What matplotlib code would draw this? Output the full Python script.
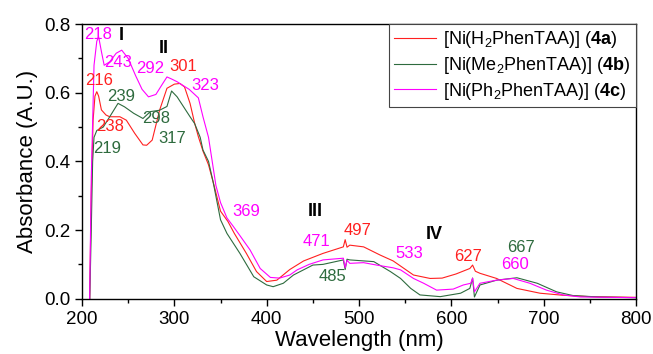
import matplotlib
matplotlib.use('Agg')
import matplotlib.pyplot as plt
from matplotlib.ticker import MultipleLocator

plt.rcParams['font.family'] = ['Liberation Sans', 'DejaVu Sans']
plt.rcParams['mathtext.fontset'] = 'custom'
plt.rcParams['mathtext.rm'] = 'Liberation Sans'
plt.rcParams['mathtext.bf'] = 'Liberation Sans:bold'

# --- data --------------------------------------------------------------
wl_a = [208, 210, 212, 214, 216, 218, 221, 226, 230, 236, 241, 248, 257, 266,
        270, 276, 284, 292, 300, 306, 311, 317, 322, 326, 331, 337, 343, 350,
        358, 365, 378, 389, 400, 411, 425, 440, 461, 483, 485, 487, 490, 505,
        523, 537, 559, 577, 590, 605, 620, 623, 626, 631, 649, 671, 696, 721,
        750, 800]
abs_a = [-0.05, 0.30, 0.52, 0.59, 0.603, 0.59, 0.55, 0.535, 0.53, 0.53, 0.53,
         0.52, 0.482, 0.448, 0.447, 0.462, 0.549, 0.613, 0.625, 0.627, 0.617,
         0.569, 0.511, 0.472, 0.43, 0.39, 0.33, 0.255, 0.225, 0.19, 0.132,
         0.079, 0.05, 0.054, 0.085, 0.11, 0.132, 0.151, 0.172, 0.15, 0.156,
         0.151, 0.127, 0.11, 0.069, 0.059, 0.06, 0.072, 0.088, 0.098, 0.08,
         0.074, 0.059, 0.03, 0.016, 0.01, 0.006, 0.004]

wl_b = [208, 210, 211.5, 213, 216, 223, 230, 239, 246, 256, 266, 274, 284, 292,
        297, 303, 310, 317, 322, 328, 331, 337, 342, 350, 357, 371, 386, 400,
        407, 418, 429, 450, 461, 483, 485, 487, 490, 516, 534, 545, 556, 566,
        588, 610, 620, 623, 625, 631, 649, 671, 693, 714, 732, 760, 800]
abs_b = [-0.05, 0.2, 0.40, 0.47, 0.49, 0.50, 0.53, 0.569, 0.559, 0.54, 0.525,
         0.545, 0.549, 0.56, 0.605, 0.588, 0.559, 0.53, 0.51, 0.47, 0.433, 0.40,
         0.34, 0.23, 0.19, 0.132, 0.064, 0.04, 0.035, 0.045, 0.069, 0.098, 0.1,
         0.113, 0.085, 0.115, 0.113, 0.108, 0.079, 0.059, 0.03, 0.011, 0.006,
         0.016, 0.03, 0.06, 0.005, 0.04, 0.054, 0.061, 0.045, 0.02, 0.009,
         0.005, 0.003]

wl_c = [208, 210, 213, 216, 218, 221, 224, 230, 237, 243, 250, 258, 265, 272,
        280, 287, 292, 297, 303, 310, 316, 322, 326, 331, 337, 341, 345, 350,
        357, 364, 372, 382, 393, 404, 414, 425, 433, 446, 461, 483, 485, 487,
        490, 505, 519, 537, 545, 559, 570, 584, 602, 613, 621, 623, 625, 631,
        649, 667, 685, 703, 721, 740, 800]
abs_c = [-0.05, 0.35, 0.68, 0.75, 0.763, 0.72, 0.68, 0.69, 0.715, 0.724, 0.70,
         0.65, 0.61, 0.588, 0.595, 0.625, 0.646, 0.64, 0.632, 0.62, 0.61, 0.595,
         0.585, 0.53, 0.47, 0.40, 0.33, 0.28, 0.235, 0.21, 0.18, 0.142, 0.088,
         0.062, 0.06, 0.069, 0.084, 0.1, 0.113, 0.118, 0.09, 0.112, 0.103,
         0.105, 0.098, 0.09, 0.084, 0.059, 0.045, 0.025, 0.028, 0.04, 0.045,
         0.06, 0.02, 0.045, 0.054, 0.059, 0.045, 0.025, 0.011, 0.005, 0.003]

labels = [r'[Ni(H$_2$PhenTAA)] ($\mathbf{4a}$)',
          r'[Ni(Me$_2$PhenTAA)] ($\mathbf{4b}$)',
          r'[Ni(Ph$_2$PhenTAA)] ($\mathbf{4c}$)']
colors = ['#ff2020', '#2e6b3e', '#ff00ff']

# peak annotations: text, position, and which series colour it takes
peak_txt = ['218', '243', '292', '323', '369', '471', '533', '660',
            '216', '238', '301', '497', '627',
            '239', '219', '298', '317', '485', '667']
peak_x = [217, 239, 274, 334, 378, 454, 554, 669,
          219, 230, 310, 498, 618,
          242, 227, 280, 298, 471, 675]
peak_y = [0.771, 0.689, 0.671, 0.622, 0.253, 0.166, 0.132, 0.100,
          0.637, 0.501, 0.676, 0.200, 0.122,
          0.588, 0.438, 0.525, 0.467, 0.064, 0.149]
peak_ser = [2, 2, 2, 2, 2, 2, 2, 2,
            0, 0, 0, 0, 0,
            1, 1, 1, 1, 1, 1]

band_txt = ['I', 'II', 'III', 'IV']
band_x = [243, 288, 453, 581]
band_y = [0.767, 0.730, 0.255, 0.186]

fig = plt.figure(figsize=(6.53, 3.54), dpi=100)
ax = fig.add_axes([0.1256, 0.1562, 0.8484, 0.7758])

for wl, ab, c, lab in zip([wl_a, wl_b, wl_c], [abs_a, abs_b, abs_c], colors, labels):
    ax.plot(wl, ab, color=c, lw=0.8, label=lab)

for t, x, y, s in zip(peak_txt, peak_x, peak_y, peak_ser):
    ax.text(x, y, t, color=colors[s], fontsize=12, ha='center', va='center')
for t, x, y in zip(band_txt, band_x, band_y):
    ax.text(x, y, t, color='black', fontsize=13, fontweight='bold',
            ha='center', va='center')

ax.set_xlim(200, 800)
ax.set_ylim(0, 0.8)
ax.xaxis.set_major_locator(MultipleLocator(100))
ax.xaxis.set_minor_locator(MultipleLocator(50))
ax.yaxis.set_major_locator(MultipleLocator(0.2))
ax.yaxis.set_minor_locator(MultipleLocator(0.1))
ax.yaxis.set_major_formatter(plt.FormatStrFormatter('%.1f'))
ax.tick_params(which='both', direction='out', top=False, right=False,
               labelsize=13.5, width=1)
ax.tick_params(which='major', length=5)
ax.tick_params(which='minor', length=3)
for sp in ax.spines.values():
    sp.set_linewidth(1)

ax.set_xlabel('Wavelength (nm)', fontsize=16, labelpad=2)
ax.set_ylabel('Absorbance (A.U.)', fontsize=16, labelpad=4)

leg = ax.legend(loc='upper right', borderaxespad=0, fontsize=13,
                fancybox=False, edgecolor='#444444', framealpha=1,
                handlelength=2.3, handletextpad=0.4, labelspacing=0.25,
                borderpad=0.3)
leg.get_frame().set_linewidth(0.8)

fig.savefig('out.png', dpi=100)
